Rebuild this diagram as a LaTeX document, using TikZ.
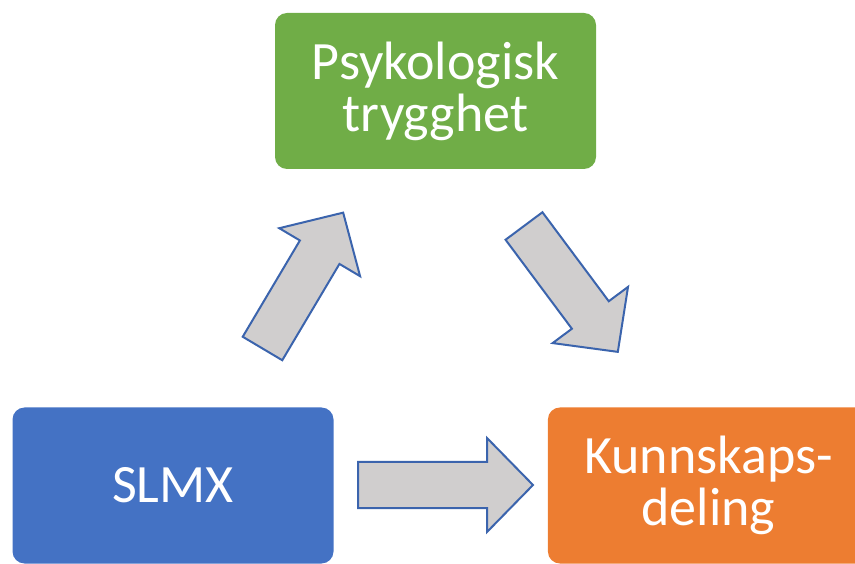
\documentclass[tikz,border=0pt]{standalone}
\usepackage{fontspec}
\setmainfont{Carlito}
\usetikzlibrary{positioning}

\definecolor{slmxblue}{HTML}{4472C4}
\definecolor{tryggreen}{HTML}{70AD47}
\definecolor{delorange}{HTML}{ED7D31}
\definecolor{arrowgray}{HTML}{D0CECE}
\definecolor{arrowline}{HTML}{3B64AD}

% block arrow: tail point, angle, length
\newcommand{\blockarrow}[3]{%
  \begin{scope}[shift={#1}, rotate=#2]
    \draw[barrow] (0,-23) -- ({#3-46},-23) -- ({#3-46},-47) -- (#3,0)
      -- ({#3-46},47) -- ({#3-46},23) -- (0,23) -- cycle;
  \end{scope}}

\begin{document}
\begin{tikzpicture}[
  x=1pt, y=1pt,
  box/.style={rounded corners=12pt, align=center, text=white, minimum width=321pt, minimum height=156pt,
    inner sep=0pt, font=\fontsize{54}{52}\selectfont},
  barrow/.style={fill=arrowgray, draw=arrowline, line width=2pt, line join=miter}
]
  \useasboundingbox (0,0) rectangle (855,563);
  \clip (0,0) rectangle (855,563);

  \node[box, fill=tryggreen] (trygg) at (435.5,472) {Psykologisk\\trygghet};
  \node[box, fill=slmxblue] (slmx) at (173,77.5) {SLMX};
  \node[box, fill=delorange, right=214pt of slmx] (deling) {Kunnskaps-\\deling};

  \coordinate (upTail) at (262.5,214.5);
  \coordinate (downTail) at (524,337);
  \coordinate (rightTail) at (358,78);

  \blockarrow{(upTail)}{59.3}{158}
  \blockarrow{(downTail)}{-53.3}{157}
  \blockarrow{(rightTail)}{0}{175}
\end{tikzpicture}
\end{document}
